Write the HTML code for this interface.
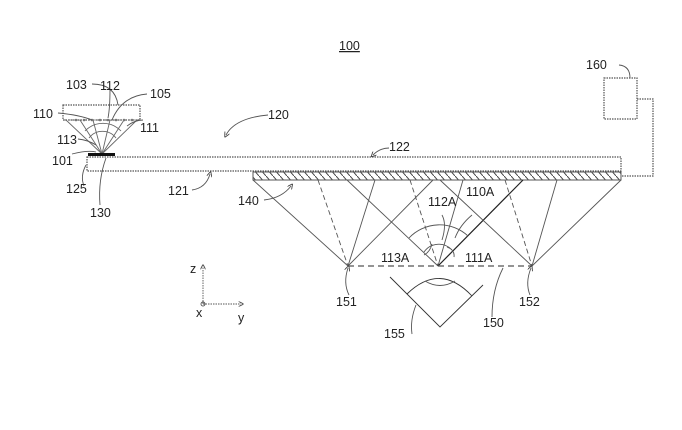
<!DOCTYPE html>
<html><head><meta charset="utf-8"><style>
html,body{margin:0;padding:0;background:#fff;}
svg{display:block;}
text{font-family:"Liberation Sans",sans-serif;font-size:12.5px;fill:#222;}
</style></head><body>
<svg width="682" height="430" viewBox="0 0 682 430" xmlns="http://www.w3.org/2000/svg">
<defs>
<pattern id="h" width="7" height="8" patternUnits="userSpaceOnUse">
<line x1="0" y1="0" x2="7" y2="8" stroke="#444" stroke-width="1"/>
</pattern>
<marker id="a" markerWidth="6" markerHeight="6" refX="3" refY="3" orient="auto"><path d="M0,0 L6,3 L0,6" fill="none" stroke="#444"/></marker>
</defs>
<g stroke="#555" fill="none" stroke-width="1.2" stroke-dasharray="1.5,1">
<rect x="87" y="157" width="534" height="14" fill="#fff"/>
<rect x="63" y="105" width="77" height="15"/>
<rect x="604" y="78" width="33" height="41"/>
<polyline points="637,99 653,99 653,176 622,176"/>
</g>
<rect x="253" y="172" width="368" height="8" fill="url(#h)" stroke="#555" stroke-width="1"/>
<g stroke="#666" stroke-width="0.9" fill="none">
<line x1="66" y1="120" x2="102" y2="154"/>
<line x1="137" y1="120" x2="102" y2="154"/>
<line x1="110" y1="120" x2="102" y2="154"/>
<line x1="93" y1="120" x2="102" y2="154"/>
<line x1="80" y1="120" x2="102" y2="154"/>
<line x1="124" y1="120" x2="102" y2="154"/>
<path d="M85,131 A25,25 0 0 1 121,131"/>
<path d="M89,138 A17,17 0 0 1 116,138"/>
<line x1="64" y1="120" x2="139" y2="120" stroke-dasharray="2,2"/>
</g>
<g fill="#777"><circle cx="76" cy="120" r="1.3"/><circle cx="84" cy="120" r="1.3"/><circle cx="92" cy="120" r="1.3"/><circle cx="100" cy="120" r="1.3"/><circle cx="108" cy="120" r="1.3"/><circle cx="116" cy="120" r="1.3"/><circle cx="124" cy="120" r="1.3"/><circle cx="132" cy="120" r="1.3"/></g>
<rect x="88" y="153" width="27" height="3" fill="#111"/>
<g stroke="#555" stroke-width="0.9" fill="none">
<line x1="253" y1="180" x2="348" y2="266"/>
<line x1="318" y1="180" x2="348" y2="266" stroke-dasharray="5,3"/>
<line x1="375" y1="180" x2="348" y2="266"/>
<line x1="433" y1="180" x2="348" y2="266"/>
<line x1="347" y1="180" x2="438" y2="266"/>
<line x1="410" y1="180" x2="438" y2="266" stroke-dasharray="5,3"/>
<line x1="463" y1="180" x2="438" y2="266"/>
<line x1="523" y1="180" x2="438" y2="266" stroke="#222" stroke-width="1.2"/>
<line x1="440" y1="180" x2="532" y2="266"/>
<line x1="505" y1="180" x2="532" y2="266" stroke-dasharray="5,3"/>
<line x1="557" y1="180" x2="532" y2="266"/>
<line x1="621" y1="180" x2="532" y2="266"/>
<line x1="348" y1="266" x2="532" y2="266" stroke-dasharray="6,4" stroke-width="1.2"/>
<path d="M409,238 A42,42 0 0 1 468,236"/>
<path d="M424,252 A18,18 0 0 1 452,250"/>
<polyline points="390,277 440,327 483,285" stroke="#333"/>
<path d="M407,294 Q440,262 472,296" stroke="#333"/>
<path d="M425,281 Q440,290 455,281"/>
<path d="M92,84 Q115,84 118,105"/>
<path d="M58,113 Q80,115 92,120"/>
<path d="M78,139 Q88,140 96,145" />
<path d="M72,154 Q88,150 96,152"/>
<path d="M84,186 Q80,176 86,165"/>
<path d="M100,205 Q98,180 106,158"/>
<path d="M143,120 Q135,120 127,126"/>
<path d="M147,94 Q122,96 112,120"/>
<path d="M110,89 Q110,108 108,118"/>
<path d="M619,65 Q630,66 630,78"/>
<path d="M268,115 Q235,118 226,135" marker-end="url(#a)"/>
<path d="M389,148 Q380,148 373,155" marker-end="url(#a)"/>
<path d="M192,190 Q206,188 210,174" marker-end="url(#a)"/>
<path d="M264,200 Q282,198 291,186" marker-end="url(#a)"/>
<path d="M349,295 Q343,283 348,268" marker-end="url(#a)"/>
<path d="M530,295 Q525,283 531,268" marker-end="url(#a)"/>
<path d="M492,317 Q492,290 503,268"/>
<path d="M412,334 Q410,320 416,305"/>
<path d="M424,255 Q430,252 432,244"/>
<path d="M442,240 Q447,224 442,215"/>
<path d="M455,238 Q460,225 472,215"/>
<path d="M454,257 Q455,250 447,247"/>
<line x1="203" y1="304" x2="203" y2="267" marker-end="url(#a)" stroke-dasharray="1.5,1"/>
<line x1="203" y1="304" x2="241" y2="304" marker-end="url(#a)" stroke-dasharray="1.5,1"/>
<circle cx="203" cy="304" r="2"/>
</g>
<text x="339" y="50" style="text-decoration:underline">100</text>
<text x="66" y="89">103</text>
<text x="100" y="90">112</text>
<text x="150" y="98">105</text>
<text x="33" y="118">110</text>
<text x="140" y="132">111</text>
<text x="57" y="144">113</text>
<text x="52" y="165">101</text>
<text x="66" y="193">125</text>
<text x="90" y="217">130</text>
<text x="268" y="119">120</text>
<text x="389" y="151">122</text>
<text x="168" y="195">121</text>
<text x="238" y="205">140</text>
<text x="586" y="69">160</text>
<text x="466" y="196">110A</text>
<text x="428" y="206">112A</text>
<text x="381" y="262">113A</text>
<text x="465" y="262">111A</text>
<text x="336" y="306">151</text>
<text x="519" y="306">152</text>
<text x="483" y="327">150</text>
<text x="384" y="338">155</text>
<text x="190" y="273">z</text>
<text x="196" y="317">x</text>
<text x="238" y="322">y</text>
</svg>
</body></html>
